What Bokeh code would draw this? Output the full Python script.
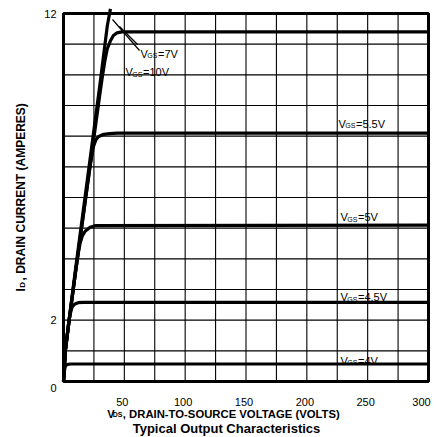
from math import pi
from bokeh.plotting import figure
from bokeh.models import Range1d
from bokeh.core.properties import value
from bokeh.embed import file_html
from bokeh.resources import INLINE

# ---------------- data ----------------
vgs_names = ["4V", "4.5V", "5V", "5.5V", "7V", "10V"]

v_4v = [0, 0.6, 1.2, 2.0, 3.5, 6, 10, 300]
i_4v = [0, 0.30, 0.45, 0.53, 0.56, 0.57, 0.57, 0.57]

v_45v = [0, 1.5, 4, 5.5, 7, 9, 12, 16, 300]
i_45v = [0, 1.0, 1.85, 2.2, 2.42, 2.52, 2.57, 2.58, 2.58]

v_5v = [0, 1.5, 5, 10, 12, 13.6, 15.5, 17.8, 21.8, 26, 300]
i_5v = [0, 1.0, 2.1, 3.6, 4.15, 4.5, 4.75, 4.9, 5.03, 5.08, 5.1]

v_55v = [0, 1.5, 5, 10, 20, 22, 24.5, 26.5, 28.6, 33, 38, 44, 300]
i_55v = [0, 1.0, 2.1, 3.6, 6.5, 7.05, 7.65, 7.87, 7.98, 8.06, 8.08, 8.1, 8.1]

v_7v = [0, 1.5, 5, 10, 20, 30, 32, 34, 36, 38.5, 41, 44, 48, 300]
i_7v = [0, 1.0, 2.1, 3.6, 6.5, 9.4, 9.95, 10.45, 10.85, 11.1, 11.28, 11.37, 11.4, 11.4]

v_10v = [0, 1.5, 5, 10, 20, 30, 36, 38.6]
i_10v = [0, 1.0, 2.15, 3.7, 6.7, 9.7, 11.6, 12.15]

x_tick_values = [50, 100, 150, 200, 250, 300]
y_tick_values = [0, 2, 12]
x_grid_values = list(range(0, 301, 25))
y_grid_values = list(range(0, 13, 1))
x_min, x_max, y_min, y_max = 0, 300, 0, 12

x_label_rest = ", DRAIN-TO-SOURCE VOLTAGE (VOLTS)"
y_label_rest = ", DRAIN CURRENT (AMPERES)"
title_text = "Typical Output Characteristics"

# ---------------- layout: the whole canvas is the plotting frame ----------------
W, H = 436, 437
PL, PR, PT, PB = 63, 428, 13, 381     # where the chart box sits, in px


def vx(px):
    return x_min + (px - PL) / (PR - PL) * (x_max - x_min)


def iy(py):
    return y_min + (PB - py) / (PB - PT) * (y_max - y_min)


FONT = value("Liberation Sans")

p = figure(width=W, height=H,
           x_range=Range1d(vx(0), vx(W)), y_range=Range1d(iy(H), iy(0)),
           output_backend="svg", toolbar_location=None,
           x_axis_location=None, y_axis_location=None,
           min_border=0)
p.min_border_left = p.min_border_right = 0
p.min_border_top = p.min_border_bottom = 0
p.background_fill_color = "white"
p.border_fill_color = "white"
p.outline_line_color = None
p.xgrid.visible = False
p.ygrid.visible = False

# grid of the chart
p.segment(x0=x_grid_values, y0=[y_min] * len(x_grid_values),
          x1=x_grid_values, y1=[y_max] * len(x_grid_values),
          line_color="black", line_width=1.1)
p.segment(x0=[x_min] * len(y_grid_values), y0=y_grid_values,
          x1=[x_max] * len(y_grid_values), y1=y_grid_values,
          line_color="black", line_width=1.1)

# curves
curves = [(v_4v, i_4v), (v_45v, i_45v), (v_5v, i_5v),
          (v_55v, i_55v), (v_7v, i_7v), (v_10v, i_10v)]
for vv, ii in curves:
    p.line(vv, ii, line_color="black", line_width=3.2, line_join="round")

# chart box
p.quad(left=[x_min], right=[x_max], bottom=[y_min], top=[y_max],
       fill_color=None, line_color="black", line_width=3)

# leader lines for the 7V / 10V labels
p.segment(x0=[vx(112), vx(119)], y0=[iy(19), iy(26)],
          x1=[vx(139), vx(137)], y1=[iy(50), iy(44)],
          line_color="black", line_width=1.2)

# curve labels: "V" + subscript "GS" + "=..."
lab_px = {"7V": (140, 53.3), "10V": (125, 71.7), "5.5V": (338, 123.3),
          "5V": (340, 216.7), "4.5V": (340, 296.7), "4V": (340, 360)}
n = len(vgs_names)
lx = [vx(lab_px[k][0]) for k in vgs_names]
ly = [iy(lab_px[k][1]) for k in vgs_names]
lx_sub = [vx(lab_px[k][0] + 6.8) for k in vgs_names]
ly_sub = [iy(lab_px[k][1] + 1.8) for k in vgs_names]
lx_eq = [vx(lab_px[k][0] + 17.5) for k in vgs_names]
p.text(x=lx, y=ly, text=["V"] * n, text_font=FONT,
       text_font_size="11px", text_baseline="alphabetic", text_align="left")
p.text(x=lx_sub, y=ly_sub, text=["GS"] * n, text_font=FONT,
       text_font_size="7px", text_baseline="alphabetic", text_align="left")
p.text(x=lx_eq, y=ly, text=["=" + k for k in vgs_names], text_font=FONT,
       text_font_size="11px", text_baseline="alphabetic", text_align="left")

# tick labels
x_off = [-7 if t == x_max else -2 for t in x_tick_values]
p.text(x=x_tick_values, y=[iy(401.7)] * len(x_tick_values),
       text=[str(t) for t in x_tick_values], x_offset=x_off,
       text_font=FONT, text_font_size="11px",
       text_align="center", text_baseline="alphabetic")
y_pos = [iy(387) if t == y_min else t for t in y_tick_values]
p.text(x=[vx(56)] * len(y_tick_values), y=y_pos,
       text=[str(t) for t in y_tick_values],
       text_font=FONT, text_font_size="11px",
       text_align="right", text_baseline="middle")

# x axis label with subscript
p.text(x=[vx(106.7)], y=[iy(413.3)], text=["V"], text_font=FONT,
       text_font_size="11px", text_font_style="bold",
       text_align="left", text_baseline="alphabetic")
p.text(x=[vx(112.3)], y=[iy(413.8)], text=["DS"], text_font=FONT,
       text_font_size="7px", text_font_style="bold",
       text_align="left", text_baseline="alphabetic")
p.text(x=[vx(122.3)], y=[iy(413.3)], text=[x_label_rest], text_font=FONT,
       text_font_size="11.3px", text_font_style="bold",
       text_align="left", text_baseline="alphabetic")

# caption below
p.text(x=[vx(226)], y=[iy(427.7)], text=[title_text], text_font=FONT,
       text_font_size="13px", text_font_style="bold",
       text_align="center", text_baseline="alphabetic")

# y axis label (rotated) with subscript
p.text(x=[vx(20)], y=[iy(291)], text=["I"], angle=pi / 2, text_font=FONT,
       text_font_size="12px", text_font_style="bold",
       text_align="left", text_baseline="alphabetic")
p.text(x=[vx(22)], y=[iy(287.2)], text=["D"], angle=pi / 2, text_font=FONT,
       text_font_size="8px", text_font_style="bold",
       text_align="left", text_baseline="alphabetic")
p.text(x=[vx(20)], y=[iy(280)], text=[y_label_rest], angle=pi / 2,
       text_font=FONT, text_font_size="12px", text_font_style="bold",
       text_align="left", text_baseline="alphabetic")

open("out.html", "w").write(file_html(p, INLINE))
